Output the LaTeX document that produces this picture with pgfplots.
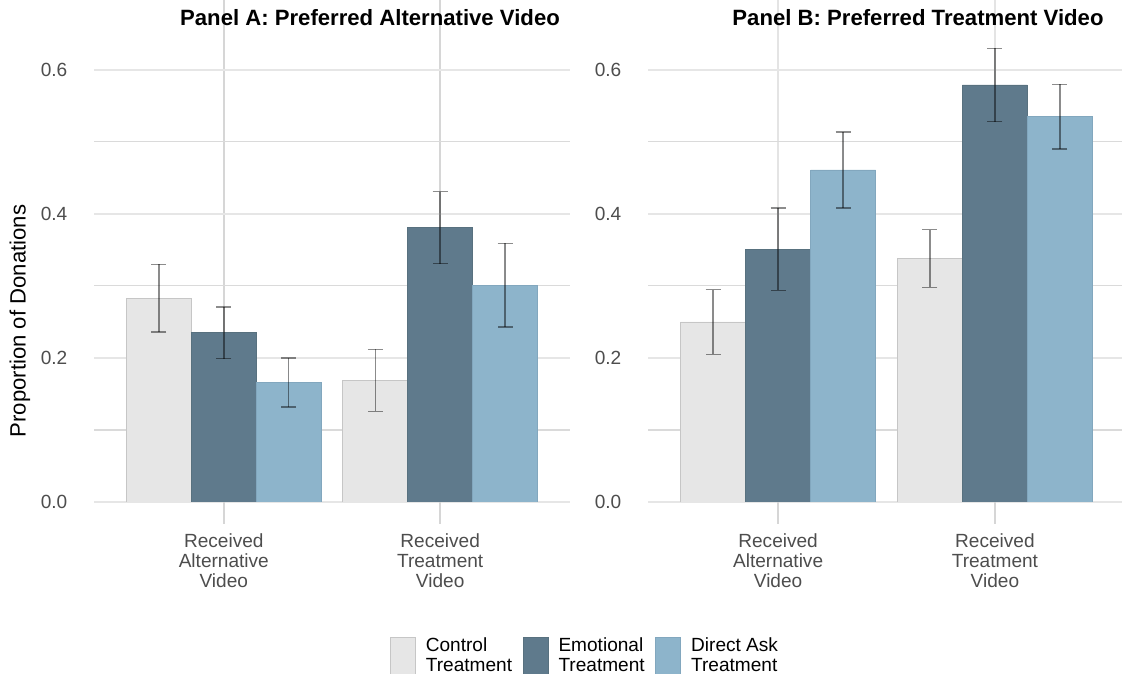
\documentclass[border=0pt]{standalone}
\usepackage{pgfplots}
\pgfplotsset{compat=1.18}
\usepackage{pgfplotstable}
\usepackage{fontspec}
\setmainfont{Liberation Sans}

\definecolor{ctrl}{HTML}{E6E6E6}
\definecolor{ctrledge}{HTML}{C6C6C6}
\definecolor{emo}{HTML}{5F7A8C}
\definecolor{emoedge}{HTML}{58717F}
\definecolor{dir}{HTML}{8DB4CB}
\definecolor{diredge}{HTML}{82A7BE}
\definecolor{ticktext}{HTML}{4D4D4D}
\definecolor{gridmaj}{HTML}{E6E6E6}
\definecolor{gridmin}{HTML}{DADADA}
\definecolor{gridx}{HTML}{D6D6D6}
\definecolor{gridxb}{HTML}{E4E4E4}

\newcommand\tickfont{\fontsize{14.3}{15}\selectfont}
\newcommand\titlefont{\fontsize{16.6}{19}\selectfont\bfseries}

% proportion of donations and half-width of the error bar, per group
\pgfplotstableread{
g ctrl ctrlerr emo emoerr dir direrr
1 0.283 0.047 0.235 0.036 0.166 0.034
2 0.169 0.043 0.381 0.050 0.301 0.058
}\panelA
\pgfplotstableread{
g ctrl ctrlerr emo emoerr dir direrr
1 0.250 0.045 0.351 0.057 0.461 0.053
2 0.338 0.040 0.579 0.051 0.535 0.045
}\panelB

\pgfplotsset{
  panel/.style={
    scale only axis, height=376.5pt,
    xmin=0.4, xmax=2.6, ymin=0, ymax=0.697,
    axis line style={draw=none},
    xtick={1,2},
    xticklabels={{Received\\Alternative\\Video},{Received\\Treatment\\Video}},
    xticklabel style={align=center, font=\tickfont, text=ticktext, yshift=-3.8pt},
    ytick={0,0.2,0.4,0.6}, minor ytick={0.1,0.3,0.5},
    yticklabel style={font=\tickfont, text=ticktext},
    /pgf/number format/.cd, fixed, fixed zerofill, precision=1, assume math mode=true, /pgfplots/.cd,
    xmajorgrids=true, ymajorgrids=true, yminorgrids=true,
    major x grid style={draw=gridx, line width=1.1pt},
    major y grid style={draw=gridmaj, line width=1.5pt},
    minor y grid style={draw=gridmin, line width=0.8pt},
    xtick pos=bottom, ytick pos=left,
    tick align=outside, major tick length=16.5pt,
    xtick style={draw=gridx, line width=1.1pt},
    ytick style={draw=none}, minor tick length=0pt,
  },
  bars/.style={ybar, bar width=0.3, bar shift=0pt, line width=0.6pt, forget plot},
  errs/.style={error bars/.cd, y dir=both, y explicit, error mark=|,
    error bar style={draw=black, opacity=0.45, line width=1.1pt},
    error mark options={draw=black, opacity=0.45, line width=1.1pt, mark size=5.6pt}},
  legkey/.style={line width=0.6pt,
    legend image code/.code={\draw[##1] (0pt,-22.8pt) rectangle (18.75pt,6.3pt);}},
}

\begin{document}
\begin{tikzpicture}
% Panel A
\begin{axis}[panel, width=357pt, at={(70.5pt,129pt)}, anchor=south west,
  legend columns=3,
  legend style={at={(axis description cs:0.622,-0.269)}, anchor=north west,
    draw=none, fill=none, inner sep=0pt, outer sep=0pt, row sep=0pt,
    /tikz/every odd column/.append style={column sep=7.5pt},
    /tikz/every even column/.append style={column sep=8pt},
    nodes={inner sep=0pt, text=black, font=\tickfont}},
  legend cell align=left]
\addplot[bars, fill=ctrl, draw=ctrledge, errs] table[x expr=\thisrow{g}-0.3, y=ctrl, y error=ctrlerr] {\panelA};
\addplot[bars, fill=emo, draw=emoedge, errs] table[x expr=\thisrow{g}, y=emo, y error=emoerr] {\panelA};
\addplot[bars, fill=dir, draw=diredge, errs] table[x expr=\thisrow{g}+0.3, y=dir, y error=direrr] {\panelA};
\addlegendimage{legkey, fill=ctrl, draw=ctrledge}
\addlegendentry{\begin{tabular}[t]{@{}l@{}}Control\\Treatment\end{tabular}}
\addlegendimage{legkey, fill=emo, draw=emoedge}
\addlegendentry{\begin{tabular}[t]{@{}l@{}}Emotional\\Treatment\end{tabular}}
\addlegendimage{legkey, fill=dir, draw=diredge}
\addlegendentry{\begin{tabular}[t]{@{}l@{}}Direct Ask\\Treatment\end{tabular}}
\end{axis}
% Panel B
\begin{axis}[panel, width=357.75pt, at={(486pt,129pt)}, anchor=south west,
  major x grid style={draw=gridxb, line width=1.1pt}]
\addplot[bars, fill=ctrl, draw=ctrledge, errs] table[x expr=\thisrow{g}-0.3, y=ctrl, y error=ctrlerr] {\panelB};
\addplot[bars, fill=emo, draw=emoedge, errs] table[x expr=\thisrow{g}, y=emo, y error=emoerr] {\panelB};
\addplot[bars, fill=dir, draw=diredge, errs] table[x expr=\thisrow{g}+0.3, y=dir, y error=direrr] {\panelB};
\end{axis}
\node[anchor=base, font=\titlefont] at (277.5pt,486pt) {Panel A: Preferred Alternative Video};
\node[anchor=base, font=\titlefont] at (688.5pt,486pt) {Panel B: Preferred Treatment Video};
\node[rotate=90, font=\fontsize{16.6}{19}\selectfont] at (15pt,264.75pt) {Proportion of Donations};
\pgfresetboundingbox
\path[use as bounding box] (0,0) rectangle (841.5pt,505.5pt);
\end{tikzpicture}
\end{document}
